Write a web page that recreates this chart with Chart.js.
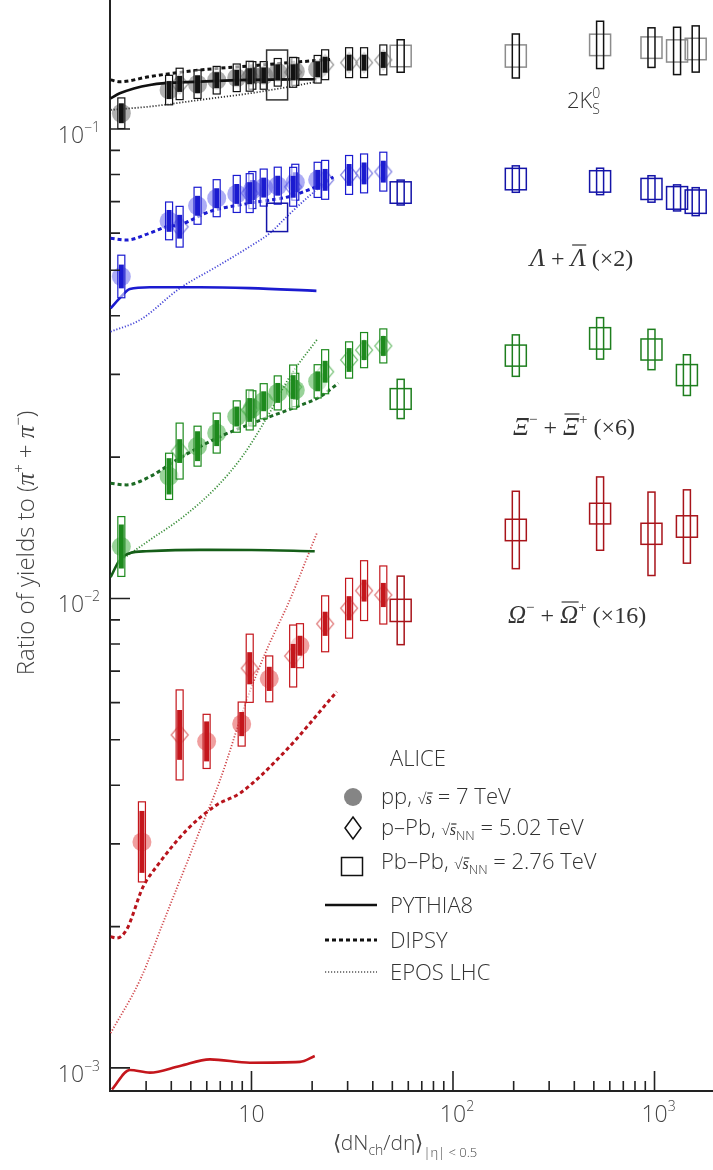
<!DOCTYPE html>
<html>
<head>
<meta charset="utf-8">
<script src="https://cdn.jsdelivr.net/npm/chart.js@4.4.0/dist/chart.umd.min.js"></script>
<style>
  html, body { margin: 0; padding: 0; background: #fff; }
  #wrap { width: 713px; height: 1170px; }
</style>
</head>
<body>
<div id="wrap"><canvas id="ratioChart" width="713" height="1170"></canvas></div>
<script>
// <dNch/deta> of the multiplicity classes
const ppMult       = [2.26, 3.90, 5.40, 6.72, 8.45, 10.1, 11.5, 13.5, 16.5, 21.3];
const ppMultOmega  = [2.86, 5.99, 8.94, 12.25, 17.4];
const pPbMult      = [4.4, 9.8, 16.1, 23.2, 30.5, 36.2, 45.1];
const pbpbMultV0   = [13.4, 55, 205, 537, 966, 1294, 1601];
const pbpbMultCasc = [55, 205, 537, 966, 1448];

// 2K0S / (pi+ + pi-)   (errors in %)
const k0sPP       = [0.108, 0.121, 0.1245, 0.127, 0.1285, 0.130, 0.130, 0.132, 0.1325, 0.134];
const k0sPPStat   = [5, 4.5, 4.5, 4, 4, 4, 4, 4, 4, 4];
const k0sPPSys    = [7.8, 7.5, 7.2, 7, 7, 7, 7, 7, 7, 7];
const k0sPPb      = [0.1247, 0.1295, 0.132, 0.137, 0.1384, 0.1384, 0.1403];
const k0sPPbStat  = [4, 4, 4, 4, 4, 4, 4];
const k0sPPbSys   = [8, 7.6, 7.6, 7.6, 7.6, 7.6, 7.6];
const k0sPbPb     = [0.1303, 0.143, 0.143, 0.151, 0.149, 0.1466, 0.148];
const k0sPbPbSys  = [0, 8.3, 11.4, 12.3, 10.2, 12.3, 12.0];
const k0sPbPbUnc  = [13, 5.4, 5.6, 5.4, 5.4, 5.6, 5.4];

// (Lambda + antiLambda) x2
const lamPP       = [0.0485, 0.0637, 0.0686, 0.0712, 0.0727, 0.0741, 0.0750, 0.0757, 0.0770, 0.0779];
const lamPPStat   = [6, 5.5, 5, 5, 5, 5, 5, 5, 5, 5];
const lamPPSys    = [11, 9.7, 9.5, 9.5, 9.5, 9.5, 9.5, 9.5, 9.2, 9];
const lamPPb      = [0.0619, 0.0730, 0.0753, 0.0779, 0.0798, 0.0804, 0.0811];
const lamPPbStat  = [6, 5.5, 5.5, 5.5, 5.5, 5.5, 5.5];
const lamPPbSys   = [10.5, 10, 10, 10, 10, 10, 10];
const lamPbPb     = [0.0648, 0.0732, 0.0782, 0.0773, 0.0745, 0.0713, 0.0700];
const lamPbPbSys  = [0, 6.3, 6.7, 6.7, 6.7, 6.6, 7.1];
const lamPbPbUnc  = [7.2, 5.4, 5.4, 5.4, 5.3, 5.7, 5.9];

// (Xi- + antiXi+) x6
const xiPP        = [0.0129, 0.0182, 0.0211, 0.0225, 0.0244, 0.0254, 0.0263, 0.0274, 0.0278, 0.0290];
const xiPPStat    = [11.4, 9.3, 7.6, 6.6, 5, 5, 5, 5, 5, 5];
const xiPPSys     = [15.8, 12, 10.3, 10.3, 8, 9, 9, 8.7, 8.5, 8.5];
const xiPPb       = [0.0206, 0.0252, 0.0282, 0.0304, 0.0322, 0.0338, 0.0345];
const xiPPbStat   = [6, 6, 6, 5.5, 6, 5, 5];
const xiPPbSys    = [14.7, 10.3, 11.4, 11.4, 9.3, 9, 8.7];
const xiPbPb      = [0.0266, 0.0329, 0.0358, 0.0339, 0.0299];
const xiPbPbSys   = [10.1, 10.7, 10.7, 10.4, 10.5];
const xiPbPbUnc   = [5.2, 5.3, 5.4, 5.3, 5.3];

// (Omega- + antiOmega+) x16
const omPP        = [0.00303, 0.00496, 0.0054, 0.00674, 0.00793];
const omPPStat    = [16.4, 10.3, 6.1, 6.1, 5];
const omPPSys     = [21.7, 14.2, 11.4, 11.9, 11.4];
const omPPb       = [0.00512, 0.0071, 0.00754, 0.00883, 0.00953, 0.01039, 0.01017];
const omPPbStat   = [13, 8.2, 6.1, 6.1, 6.1, 5.5, 6.1];
const omPPbSys    = [24.7, 18.2, 16.4, 14.7, 15.8, 15.8, 15.3];
const omPbPb      = [0.00943, 0.01399, 0.01516, 0.01373, 0.01423];
const omPbPbSys   = [18.3, 20.9, 19.7, 22.7, 19.7];
const omPbPbUnc   = [5.6, 5.4, 5.2, 5.3, 5.4];

// model curves
const k0sPythiaX = [2.0, 2.22, 3.13, 5.55, 9.83, 21.0];
const k0sPythiaY = [0.1162, 0.1191, 0.1241, 0.1261, 0.1272, 0.1276];
const k0sDipsyX  = [2.0, 2.22, 3.13, 5.55, 9.83, 17.4, 25.4];
const k0sDipsyY  = [0.1272, 0.126, 0.1293, 0.1335, 0.1362, 0.139, 0.1407];
const k0sEposX   = [2.0, 3.13, 5.55, 9.83, 17.4, 21.0];
const k0sEposY   = [0.1098, 0.1116, 0.1153, 0.1191, 0.1241, 0.1261];

const lamPythiaX = [2.0, 2.22, 2.49, 3.13, 5.55, 9.83, 21.0];
const lamPythiaY = [0.0415, 0.0436, 0.0456, 0.0460, 0.0460, 0.0458, 0.0452];
const lamDipsyX  = [2.0, 2.40, 3.13, 3.80, 4.42, 6.22, 9.83, 15.5, 17.4, 21.9, 25.5];
const lamDipsyY  = [0.0585, 0.0580, 0.0600, 0.0619, 0.0625, 0.0667, 0.0695, 0.0718, 0.0730, 0.0760, 0.0790];
const lamEposX   = [2.0, 2.80, 4.42, 6.72, 9.83, 12.35, 14.95, 18.8, 23.6];
const lamEposY   = [0.0370, 0.0392, 0.0458, 0.0509, 0.0562, 0.0600, 0.0650, 0.0712, 0.0772];

const xiPythiaX = [2.0, 2.2, 2.5, 3.0, 5.55, 10.0, 20.6];
const xiPythiaY = [0.0111, 0.0120, 0.0125, 0.0126, 0.01269, 0.01268, 0.0126];
const xiDipsyX  = [2.0, 2.40, 3.13, 4.25, 6.72, 10.6, 16.8, 21.9, 27.0];
const xiDipsyY  = [0.01759, 0.01745, 0.01817, 0.01972, 0.02195, 0.0238, 0.02562, 0.0269, 0.02873];
const xiEposX   = [2.27, 3.13, 4.59, 6.72, 9.11, 11.9, 15.5, 21.1];
const xiEposY   = [0.0121, 0.01332, 0.01493, 0.01728, 0.0202, 0.02424, 0.02968, 0.03554];

const omPythiaX = [2.03, 2.49, 3.13, 4.42, 6.22, 9.83, 17.4, 20.6];
const omPythiaY = [0.00090, 0.00099, 0.000977, 0.00101, 0.001043, 0.001026, 0.00103, 0.00106];
const omDipsyX  = [2.0, 2.14, 2.40, 2.90, 3.38, 4.77, 6.72, 8.77, 14.4, 26.5];
const omDipsyY  = [0.001904, 0.00189, 0.00197, 0.002433, 0.002684, 0.003212, 0.003633, 0.003847, 0.004682, 0.00633];
const omEposX   = [2.0, 2.80, 3.80, 5.55, 6.98, 9.47, 11.9, 15.5, 21.1];
const omEposY   = [0.001186, 0.00154, 0.002135, 0.003212, 0.0041, 0.00608, 0.00777, 0.00993, 0.01377];

// axes
const X_MIN = 1.9856, X_MAX = 1951;
const Y_MIN = 0.000893, Y_MAX = 0.1882;
const xMajorTicks = [10, 100, 1000];
const xMinorTicks = [3, 4, 5, 6, 7, 8, 9, 20, 30, 40, 50, 60, 70, 80, 90, 200, 300, 400, 500, 600, 700, 800, 900];
const xTickExps   = ['', '2', '3'];
const yMajorTicks = [0.001, 0.01, 0.1];
const yMinorTicks = [0.002, 0.003, 0.004, 0.005, 0.006, 0.007, 0.008, 0.009,
                     0.02, 0.03, 0.04, 0.05, 0.06, 0.07, 0.08, 0.09];
const yTickExps   = ['\u22123', '\u22122', '\u22121'];

const SANS = '"Open Sans", "DejaVu Sans", sans-serif';
const SERIF = '"Liberation Serif", "DejaVu Serif", serif';

function pts(xs, ys) { return xs.map((x, i) => ({ x: x, y: ys[i] })); }

function diamondImg(color) {
  const c = document.createElement('canvas');
  c.width = 20; c.height = 24;
  const g = c.getContext('2d');
  g.strokeStyle = color; g.lineWidth = 1.2;
  g.beginPath();
  g.moveTo(10, 2); g.lineTo(18.5, 12); g.lineTo(10, 22); g.lineTo(1.5, 12);
  g.closePath(); g.stroke();
  return c;
}

function ppSet(xs, ys, stat, sys, circle, dark) {
  return {
    data: pts(xs, ys), pointStyle: 'circle', pointRadius: 9.5,
    pointBackgroundColor: circle, pointBorderWidth: 0, order: 3,
    boxes: [
      { err: sys, w: 7, fill: 'rgba(255,255,255,0.55)', stroke: dark },
      { err: stat, w: 5, fill: dark }
    ]
  };
}
function pPbSet(xs, ys, stat, sys, outline, dark) {
  return {
    data: pts(xs, ys), pointStyle: diamondImg(outline), pointRadius: 9, order: 3,
    boxes: [
      { err: sys, w: 7, fill: 'rgba(255,255,255,0.55)', stroke: dark },
      { err: stat, w: 5, fill: dark }
    ]
  };
}
function pbpbSet(xs, ys, sys, unc, wideColor, narrowColor) {
  return {
    data: pts(xs, ys), pointRadius: 0, order: 3,
    boxes: [
      { err: unc, w: 21, stroke: wideColor, lw: 1.5 },
      { err: sys, w: 7, stroke: narrowColor, lw: 1.5 }
    ]
  };
}
function curve(xs, ys, color, kind) {
  const ds = {
    data: pts(xs, ys), showLine: true, pointRadius: 0, borderColor: color,
    cubicInterpolationMode: 'monotone', order: 2
  };
  if (kind === 'solid') { ds.borderWidth = 2.6; }
  if (kind === 'dash') { ds.borderWidth = 3; ds.borderDash = [4, 3]; }
  if (kind === 'dot') { ds.borderWidth = 1.8; ds.borderDash = [1.2, 1.8]; }
  return ds;
}

const BLACK = '#111', BLUE = '#1b1bd0', GREEN = '#1d8a1d', DKGREEN = '#155e18', RED = '#c4161c';

const datasets = [
  curve(k0sPythiaX, k0sPythiaY, BLACK, 'solid'),
  curve(k0sDipsyX, k0sDipsyY, BLACK, 'dash'),
  curve(k0sEposX, k0sEposY, '#333', 'dot'),
  curve(lamPythiaX, lamPythiaY, BLUE, 'solid'),
  curve(lamDipsyX, lamDipsyY, BLUE, 'dash'),
  curve(lamEposX, lamEposY, '#4848d8', 'dot'),
  curve(xiPythiaX, xiPythiaY, DKGREEN, 'solid'),
  curve(xiDipsyX, xiDipsyY, '#1d6b25', 'dash'),
  curve(xiEposX, xiEposY, '#3a8f3a', 'dot'),
  curve(omPythiaX, omPythiaY, RED, 'solid'),
  curve(omDipsyX, omDipsyY, '#b8141c', 'dash'),
  curve(omEposX, omEposY, '#d0484c', 'dot'),

  ppSet(ppMult, k0sPP, k0sPPStat, k0sPPSys, 'rgba(110,110,110,0.55)', BLACK),
  pPbSet(pPbMult, k0sPPb, k0sPPbStat, k0sPPbSys, '#999', BLACK),
  pbpbSet(pbpbMultV0, k0sPbPb, k0sPbPbSys, k0sPbPbUnc, ['#333', '#8c8c8c', '#8c8c8c', '#8c8c8c', '#8c8c8c', '#8c8c8c', '#8c8c8c'], BLACK),

  ppSet(ppMult, lamPP, lamPPStat, lamPPSys, 'rgba(90,90,235,0.5)', BLUE),
  pPbSet(pPbMult, lamPPb, lamPPbStat, lamPPbSys, '#8484e4', BLUE),
  pbpbSet(pbpbMultV0, lamPbPb, lamPbPbSys, lamPbPbUnc, '#1414a8', '#1414a8'),

  ppSet(ppMult, xiPP, xiPPStat, xiPPSys, 'rgba(70,175,70,0.55)', GREEN),
  pPbSet(pPbMult, xiPPb, xiPPbStat, xiPPbSys, '#7cc47c', GREEN),
  pbpbSet(pbpbMultCasc, xiPbPb, xiPbPbSys, xiPbPbUnc, '#1e7e1e', '#1e7e1e'),

  ppSet(ppMultOmega, omPP, omPPStat, omPPSys, 'rgba(228,80,80,0.55)', RED),
  pPbSet(pPbMult, omPPb, omPPbStat, omPPbSys, '#e07a7a', RED),
  pbpbSet(pbpbMultCasc, omPbPb, omPbPbSys, omPbPbUnc, '#a8141a', '#a8141a')
];

// draws a line of text made of pieces (sup/sub, overline)
function richText(ctx, x, y, parts, align) {
  let total = 0;
  parts.forEach(p => { ctx.font = p.f; p.w = ctx.measureText(p.t).width; if (!p.stay) total += p.w; });
  let cx = align === 'center' ? x - total / 2 : (align === 'right' ? x - total : x);
  parts.forEach(p => {
    ctx.font = p.f;
    ctx.fillText(p.t, cx, y + (p.dy || 0));
    if (p.over) {
      ctx.beginPath();
      ctx.lineWidth = 1.2;
      ctx.moveTo(cx + 1.5, y + p.over);
      ctx.lineTo(cx + p.w + 0.5, y + p.over);
      ctx.stroke();
    }
    if (!p.stay) cx += p.w;
  });
}

const errorBoxes = {
  id: 'errorBoxes',
  afterDatasetsDraw(chart) {
    const ctx = chart.ctx, xs = chart.scales.x, ys = chart.scales.y, a = chart.chartArea;
    ctx.save();
    ctx.beginPath(); ctx.rect(a.left, a.top, a.right - a.left, a.bottom - a.top); ctx.clip();
    chart.data.datasets.forEach(ds => {
      if (!ds.boxes) return;
      ds.boxes.forEach(b => {
        ds.data.forEach((p, i) => {
          const e = b.err[i];
          if (!e) return;
          const px = xs.getPixelForValue(p.x);
          const top = ys.getPixelForValue(p.y * (1 + e / 100));
          const bot = ys.getPixelForValue(p.y / (1 + e / 100));
          if (b.fill) { ctx.fillStyle = b.fill; ctx.fillRect(px - b.w / 2, top, b.w, bot - top); }
          if (b.stroke) {
            ctx.strokeStyle = Array.isArray(b.stroke) ? b.stroke[i] : b.stroke;
            ctx.lineWidth = b.lw || 1.2;
            ctx.strokeRect(px - b.w / 2, top, b.w, bot - top);
          }
        });
      });
    });
    ctx.restore();
  }
};

const frame = {
  id: 'frame',
  afterDraw(chart) {
    const ctx = chart.ctx, xs = chart.scales.x, ys = chart.scales.y, a = chart.chartArea;
    ctx.save();
    // inward tick marks
    ctx.strokeStyle = '#222'; ctx.lineWidth = 1.6;
    ctx.beginPath();
    yMajorTicks.forEach(v => { const p = ys.getPixelForValue(v); ctx.moveTo(a.left, p); ctx.lineTo(a.left + 20, p); });
    yMinorTicks.forEach(v => { const p = ys.getPixelForValue(v); ctx.moveTo(a.left, p); ctx.lineTo(a.left + 10, p); });
    xMajorTicks.forEach(v => { const p = xs.getPixelForValue(v); ctx.moveTo(p, a.bottom); ctx.lineTo(p, a.bottom - 20); });
    xMinorTicks.forEach(v => { const p = xs.getPixelForValue(v); ctx.moveTo(p, a.bottom); ctx.lineTo(p, a.bottom - 10); });
    ctx.stroke();

    ctx.fillStyle = '#444'; ctx.strokeStyle = '#444';
    ctx.textBaseline = 'alphabetic';
    // tick labels
    yMajorTicks.forEach((v, i) => {
      const p = ys.getPixelForValue(v);
      richText(ctx, 100, p + 14, [
        { t: '10', f: '300 23px ' + SANS },
        { t: yTickExps[i], f: '300 14px ' + SANS, dy: -11 }
      ], 'right');
    });
    xMajorTicks.forEach((v, i) => {
      const p = xs.getPixelForValue(v);
      const parts = [{ t: '10', f: '300 23px ' + SANS }];
      if (xTickExps[i]) parts.push({ t: xTickExps[i], f: '300 14px ' + SANS, dy: -11 });
      richText(ctx, p + (xTickExps[i] ? 4 : 0), 1122, parts, 'center');
    });

    // axis titles
    richText(ctx, 405, 1150, [
      { t: '\u27E8dN', f: '300 21px ' + SANS },
      { t: 'ch', f: '300 14px ' + SANS, dy: 5 },
      { t: '/d\u03B7\u27E9', f: '300 21px ' + SANS },
      { t: '|\u03B7| < 0.5', f: '300 13px ' + SANS, dy: 7 }
    ], 'center');
    ctx.save();
    ctx.translate(34, 543);
    ctx.rotate(-Math.PI / 2);
    richText(ctx, 0, 0, [
      { t: 'Ratio of yields to (', f: '300 24px ' + SANS },
      { t: '\u03C0', f: 'italic 25px ' + SERIF },
      { t: '+', f: '15px ' + SERIF, dy: -11 },
      { t: ' + ', f: '300 24px ' + SANS },
      { t: '\u03C0', f: 'italic 25px ' + SERIF },
      { t: '\u2212', f: '15px ' + SERIF, dy: -11 },
      { t: ')', f: '300 24px ' + SANS }
    ], 'center');
    ctx.restore();

    // species labels
    ctx.fillStyle = '#333'; ctx.strokeStyle = '#333';
    richText(ctx, 567, 108, [
      { t: '2K', f: '300 22px ' + SANS },
      { t: '0', f: '300 14px ' + SANS, dy: -10, stay: true },
      { t: 'S', f: '300 14px ' + SANS, dy: 6 }
    ]);
    richText(ctx, 530, 266, [
      { t: '\u039B', f: 'italic 25px ' + SERIF },
      { t: ' + ', f: '24px ' + SERIF },
      { t: '\u039B', f: 'italic 25px ' + SERIF, over: -21 },
      { t: ' (\u00D72)', f: '24px ' + SERIF }
    ]);
    richText(ctx, 513, 435, [
      { t: '\u039E', f: 'italic 25px ' + SERIF },
      { t: '\u2212', f: '15px ' + SERIF, dy: -11 },
      { t: ' + ', f: '24px ' + SERIF },
      { t: '\u039E', f: 'italic 25px ' + SERIF, over: -21 },
      { t: '+', f: '15px ' + SERIF, dy: -11 },
      { t: ' (\u00D76)', f: '24px ' + SERIF }
    ]);
    richText(ctx, 508, 623, [
      { t: '\u03A9', f: 'italic 25px ' + SERIF },
      { t: '\u2212', f: '15px ' + SERIF, dy: -11 },
      { t: ' + ', f: '24px ' + SERIF },
      { t: '\u03A9', f: 'italic 25px ' + SERIF, over: -21 },
      { t: '+', f: '15px ' + SERIF, dy: -11 },
      { t: ' (\u00D716)', f: '24px ' + SERIF }
    ]);

    // legend
    const LF = '300 22px ' + SANS, LS = '300 15px ' + SANS;
    ctx.fillStyle = '#333'; ctx.strokeStyle = '#333';
    richText(ctx, 390, 766, [{ t: 'ALICE', f: LF }]);
    ctx.fillStyle = 'rgba(120,120,120,0.9)';
    ctx.beginPath(); ctx.arc(353, 797, 9, 0, Math.PI * 2); ctx.fill();
    ctx.strokeStyle = '#111'; ctx.lineWidth = 1.5;
    ctx.beginPath(); ctx.moveTo(353, 817); ctx.lineTo(361, 828); ctx.lineTo(353, 839); ctx.lineTo(345, 828); ctx.closePath(); ctx.stroke();
    ctx.strokeRect(341.5, 857.5, 21, 18);
    ctx.lineWidth = 2.5;
    ctx.beginPath(); ctx.moveTo(325, 905); ctx.lineTo(377, 905); ctx.stroke();
    ctx.setLineDash([4, 3]); ctx.lineWidth = 3;
    ctx.beginPath(); ctx.moveTo(325, 940); ctx.lineTo(377, 940); ctx.stroke();
    ctx.setLineDash([1.2, 1.8]); ctx.lineWidth = 1.6; ctx.strokeStyle = '#555';
    ctx.beginPath(); ctx.moveTo(325, 972); ctx.lineTo(377, 972); ctx.stroke();
    ctx.setLineDash([]);

    ctx.fillStyle = '#333'; ctx.strokeStyle = '#333';
    richText(ctx, 381, 804, [
      { t: 'pp, ', f: LF }, { t: '\u221A', f: LS }, { t: 's', f: 'italic 16px ' + SERIF, over: -11 },
      { t: ' = 7 TeV', f: LF }
    ]);
    richText(ctx, 381, 835, [
      { t: 'p\u2013Pb, ', f: LF }, { t: '\u221A', f: LS }, { t: 's', f: 'italic 16px ' + SERIF, over: -11 },
      { t: 'NN', f: '300 13px ' + SANS, dy: 5 }, { t: ' = 5.02 TeV', f: LF }
    ]);
    richText(ctx, 381, 869, [
      { t: 'Pb\u2013Pb, ', f: LF }, { t: '\u221A', f: LS }, { t: 's', f: 'italic 16px ' + SERIF, over: -11 },
      { t: 'NN', f: '300 13px ' + SANS, dy: 5 }, { t: ' = 2.76 TeV', f: LF }
    ]);
    richText(ctx, 390, 913, [{ t: 'PYTHIA8', f: LF }]);
    richText(ctx, 390, 948, [{ t: 'DIPSY', f: LF }]);
    richText(ctx, 390, 980, [{ t: 'EPOS LHC', f: LF }]);
    ctx.restore();
  }
};

new Chart(document.getElementById('ratioChart'), {
  type: 'scatter',
  data: { datasets: datasets },
  options: {
    responsive: false,
    devicePixelRatio: 1,
    animation: false,
    events: [],
    layout: { padding: 0, autoPadding: false },
    plugins: { legend: { display: false }, tooltip: { enabled: false } },
    scales: {
      x: {
        type: 'logarithmic', min: X_MIN, max: X_MAX,
        ticks: { display: false }, grid: { display: false, drawTicks: false },
        border: { display: true, color: '#222', width: 2 },
        afterFit: s => { s.height = 79; }
      },
      y: {
        type: 'logarithmic', min: Y_MIN, max: Y_MAX,
        ticks: { display: false }, grid: { display: false, drawTicks: false },
        border: { display: true, color: '#222', width: 2 },
        afterFit: s => { s.width = 110; }
      }
    }
  },
  plugins: [errorBoxes, frame]
});
</script>
</body>
</html>
